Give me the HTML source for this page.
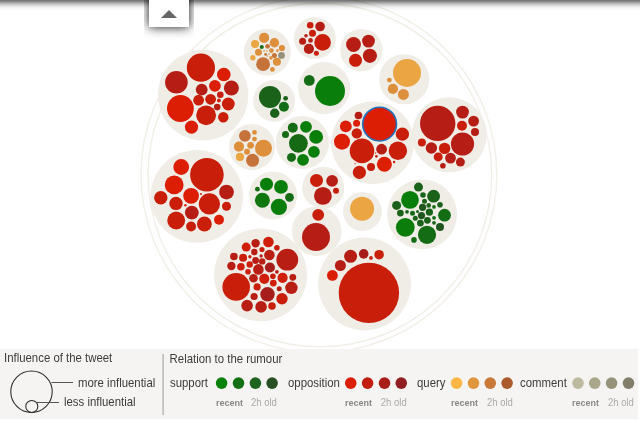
<!DOCTYPE html>
<html><head><meta charset="utf-8"><style>
html,body{margin:0;padding:0;background:#fff;}
body{width:640px;height:424px;overflow:hidden;position:relative;font-family:"Liberation Sans",sans-serif;}
#chart{position:absolute;left:0;top:0;width:640px;height:424px;}
#topshadow{position:absolute;left:0;top:0;width:640px;height:12px;background:linear-gradient(to bottom,rgba(0,0,0,.57) 0,rgba(0,0,0,.42) 2px,rgba(0,0,0,.24) 4px,rgba(0,0,0,.11) 6px,rgba(0,0,0,.04) 8px,rgba(0,0,0,.012) 10px,rgba(0,0,0,0) 12px);}
#tabwrap{position:absolute;left:144px;top:0;width:50px;height:40px;overflow:hidden;}
#tab{position:absolute;left:5px;top:-14px;width:40px;height:40.6px;background:#fff;box-shadow:0 0 10px rgba(0,0,0,.95);}
#tab:after{content:"";position:absolute;left:12px;top:24px;border-left:8px solid transparent;border-right:8px solid transparent;border-bottom:8px solid #666;}
#legend{position:absolute;left:0;top:349px;width:638px;height:70px;background:#f5f4f2;}
.t{position:absolute;font-size:11.4px;color:#3c3c3c;white-space:nowrap;line-height:14px;transform:scaleY(1.07);transform-origin:0 10.8px;}
.s{position:absolute;font-size:9.5px;color:#aaa;white-space:nowrap;line-height:11px;transform:scaleY(1.06);transform-origin:0 8.6px;}
.s b{color:#888;font-size:9px;}
#sep{position:absolute;left:163px;top:354px;width:1px;height:61px;background:#bbb;}
</style></head><body>
<svg id="chart" width="640" height="424" viewBox="0 0 640 424">
<circle cx="318.9" cy="174.6" r="177.9" fill="none" stroke="#f1efe7" stroke-width="1.4"/>
<circle cx="319.9" cy="175" r="171.8" fill="none" stroke="#f1efe7" stroke-width="1.4"/>
<circle cx="203.1" cy="95.2" r="45.2" fill="#efede6"/>
<circle cx="200.9" cy="67.7" r="14.1" fill="#c81e0a"/>
<circle cx="176.4" cy="82.3" r="11.3" fill="#b61e15"/>
<circle cx="180.4" cy="108.5" r="13.4" fill="#dc1e05"/>
<circle cx="223.8" cy="74.5" r="6.8" fill="#dc1e05"/>
<circle cx="231.4" cy="88.0" r="7.5" fill="#b61e15"/>
<circle cx="214.9" cy="85.8" r="5.9" fill="#dc1e05"/>
<circle cx="201.7" cy="89.6" r="5.9" fill="#b61e15"/>
<circle cx="198.6" cy="100.2" r="5.4" fill="#c81e0a"/>
<circle cx="210.6" cy="99.3" r="5.4" fill="#c81e0a"/>
<circle cx="220.3" cy="94.8" r="3.3" fill="#c81e0a"/>
<circle cx="218.9" cy="100.5" r="1.9" fill="#c81e0a"/>
<circle cx="217.2" cy="107.1" r="3.3" fill="#b61e15"/>
<circle cx="228.3" cy="104.0" r="6.4" fill="#c81e0a"/>
<circle cx="206.1" cy="115.3" r="9.9" fill="#c81e0a"/>
<circle cx="223.3" cy="117.2" r="5.2" fill="#c81e0a"/>
<circle cx="191.5" cy="127.1" r="6.6" fill="#dc1e05"/>
<circle cx="267.3" cy="52.1" r="23.4" fill="#efede6"/>
<circle cx="264.1" cy="37.8" r="5.1" fill="#dd8f3c"/>
<circle cx="274.4" cy="42.8" r="4.7" fill="#dd8f3c"/>
<circle cx="255.0" cy="44.1" r="4.0" fill="#eba542"/>
<circle cx="261.8" cy="47.0" r="2.0" fill="#146c14"/>
<circle cx="267.6" cy="46.3" r="2.4" fill="#c5733a"/>
<circle cx="281.9" cy="48.0" r="3.1" fill="#dd8f3c"/>
<circle cx="258.5" cy="52.3" r="3.5" fill="#dd8f3c"/>
<circle cx="271.4" cy="50.6" r="2.4" fill="#dd8f3c"/>
<circle cx="277.4" cy="50.7" r="1.4" fill="#dd8f3c"/>
<circle cx="264.1" cy="50.9" r="0.8" fill="#dd8f3c"/>
<circle cx="266.9" cy="51.0" r="0.8" fill="#dd8f3c"/>
<circle cx="265.6" cy="54.4" r="1.4" fill="#c5733a"/>
<circle cx="269.0" cy="54.0" r="0.8" fill="#c5733a"/>
<circle cx="267.2" cy="56.0" r="0.7" fill="#c5733a"/>
<circle cx="274.4" cy="55.5" r="2.5" fill="#c5733a"/>
<circle cx="281.5" cy="55.4" r="3.4" fill="#96927a"/>
<circle cx="252.9" cy="57.7" r="2.7" fill="#eba542"/>
<circle cx="271.0" cy="57.9" r="1.8" fill="#dd8f3c"/>
<circle cx="263.1" cy="64.2" r="6.9" fill="#c5733a"/>
<circle cx="276.9" cy="61.8" r="4.0" fill="#dd8f3c"/>
<circle cx="272.4" cy="69.4" r="2.4" fill="#dd8f3c"/>
<circle cx="314.9" cy="38.1" r="20.9" fill="#efede6"/>
<circle cx="310.2" cy="25.3" r="3.3" fill="#c81e0a"/>
<circle cx="320.1" cy="26.5" r="4.8" fill="#b61e15"/>
<circle cx="312.5" cy="33.3" r="3.5" fill="#c81e0a"/>
<circle cx="306.0" cy="35.7" r="1.8" fill="#b61e15"/>
<circle cx="302.6" cy="41.3" r="3.5" fill="#b61e15"/>
<circle cx="310.5" cy="40.4" r="2.4" fill="#b61e15"/>
<circle cx="322.6" cy="42.4" r="8.3" fill="#c81e0a"/>
<circle cx="308.9" cy="48.9" r="5.1" fill="#b61e15"/>
<circle cx="316.4" cy="53.3" r="2.5" fill="#c81e0a"/>
<circle cx="361.4" cy="50.1" r="21.2" fill="#efede6"/>
<circle cx="353.5" cy="44.5" r="7.4" fill="#b61e15"/>
<circle cx="368.5" cy="41.1" r="6.4" fill="#b61e15"/>
<circle cx="369.9" cy="55.8" r="7.1" fill="#b61e15"/>
<circle cx="355.5" cy="60.3" r="6.5" fill="#c81e0a"/>
<circle cx="404.2" cy="79.25" r="25.1" fill="#efede6"/>
<circle cx="407.0" cy="72.9" r="14.0" fill="#eba542"/>
<circle cx="389.4" cy="80.1" r="2.4" fill="#dd8f3c"/>
<circle cx="392.9" cy="88.9" r="5.1" fill="#dd8f3c"/>
<circle cx="403.4" cy="94.4" r="5.5" fill="#dd8f3c"/>
<circle cx="324.1" cy="88.1" r="26.0" fill="#efede6"/>
<circle cx="330.0" cy="91.0" r="15.0" fill="#0a7e0a"/>
<circle cx="309.3" cy="80.4" r="5.4" fill="#146c14"/>
<circle cx="274.2" cy="100.8" r="20.9" fill="#efede6"/>
<circle cx="270.0" cy="96.9" r="11.0" fill="#1a621a"/>
<circle cx="285.6" cy="98.3" r="2.4" fill="#1a621a"/>
<circle cx="283.9" cy="106.8" r="5.0" fill="#146c14"/>
<circle cx="274.7" cy="113.3" r="4.7" fill="#1a621a"/>
<circle cx="252.1" cy="147.1" r="23" fill="#efede6"/>
<circle cx="244.9" cy="135.8" r="5.9" fill="#c5733a"/>
<circle cx="254.5" cy="132.4" r="2.4" fill="#dd8f3c"/>
<circle cx="254.5" cy="139.1" r="2.4" fill="#dd8f3c"/>
<circle cx="239.0" cy="146.7" r="5.1" fill="#dd8f3c"/>
<circle cx="250.6" cy="145.3" r="3.4" fill="#dd8f3c"/>
<circle cx="263.5" cy="148.3" r="8.5" fill="#dd8f3c"/>
<circle cx="247.0" cy="151.7" r="3.0" fill="#dd8f3c"/>
<circle cx="240.0" cy="156.9" r="4.1" fill="#eba542"/>
<circle cx="252.6" cy="160.3" r="6.5" fill="#c5733a"/>
<circle cx="302.4" cy="142.5" r="26.6" fill="#efede6"/>
<circle cx="292.8" cy="127.8" r="5.0" fill="#146c14"/>
<circle cx="306.0" cy="126.8" r="5.9" fill="#0a7e0a"/>
<circle cx="285.5" cy="134.4" r="3.5" fill="#146c14"/>
<circle cx="316.1" cy="136.9" r="6.9" fill="#0a7e0a"/>
<circle cx="298.4" cy="143.3" r="9.4" fill="#166a16"/>
<circle cx="313.9" cy="151.8" r="5.9" fill="#0a7e0a"/>
<circle cx="291.5" cy="157.4" r="4.5" fill="#146c14"/>
<circle cx="303.0" cy="159.8" r="5.9" fill="#0a7e0a"/>
<circle cx="372.6" cy="142.8" r="41.4" fill="#efede6"/>
<circle cx="379.6" cy="124.1" r="16.9" fill="#dc1e05" stroke="#1f72bd" stroke-width="1.6"/>
<circle cx="358.5" cy="115.5" r="3.8" fill="#b61e15"/>
<circle cx="356.6" cy="123.3" r="3.5" fill="#dc1e05"/>
<circle cx="345.8" cy="126.4" r="5.9" fill="#dc1e05"/>
<circle cx="356.8" cy="133.4" r="5.2" fill="#c81e0a"/>
<circle cx="402.4" cy="134.2" r="6.6" fill="#c81e0a"/>
<circle cx="342.0" cy="141.7" r="8.0" fill="#dc1e05"/>
<circle cx="362.0" cy="150.9" r="12.3" fill="#c81e0a"/>
<circle cx="381.6" cy="149.2" r="5.4" fill="#b61e15"/>
<circle cx="397.9" cy="150.7" r="9.2" fill="#c81e0a"/>
<circle cx="376.4" cy="156.3" r="1.4" fill="#c81e0a"/>
<circle cx="375.7" cy="153.0" r="0.7" fill="#c81e0a"/>
<circle cx="355.0" cy="163.6" r="0.7" fill="#c81e0a"/>
<circle cx="394.1" cy="162.0" r="1.2" fill="#c81e0a"/>
<circle cx="384.4" cy="164.3" r="7.5" fill="#dc1e05"/>
<circle cx="371.0" cy="166.9" r="4.0" fill="#c81e0a"/>
<circle cx="359.4" cy="172.4" r="6.6" fill="#c81e0a"/>
<circle cx="449.3" cy="134.8" r="37.5" fill="#efede6"/>
<circle cx="437.7" cy="123.4" r="17.7" fill="#b61e15"/>
<circle cx="462.5" cy="112.1" r="6.4" fill="#b61e15"/>
<circle cx="473.6" cy="121.1" r="5.4" fill="#b61e15"/>
<circle cx="462.0" cy="125.8" r="5.0" fill="#c81e0a"/>
<circle cx="475.0" cy="131.9" r="4.0" fill="#b61e15"/>
<circle cx="462.5" cy="144.0" r="11.6" fill="#b61e15"/>
<circle cx="421.9" cy="142.5" r="4.0" fill="#c81e0a"/>
<circle cx="431.4" cy="148.0" r="5.7" fill="#b61e15"/>
<circle cx="444.6" cy="148.4" r="5.7" fill="#c81e0a"/>
<circle cx="438.2" cy="156.9" r="4.5" fill="#c81e0a"/>
<circle cx="450.5" cy="158.1" r="5.4" fill="#b61e15"/>
<circle cx="460.4" cy="162.1" r="4.5" fill="#b61e15"/>
<circle cx="442.9" cy="165.7" r="2.8" fill="#b61e15"/>
<circle cx="196.8" cy="196.4" r="46.3" fill="#efede6"/>
<circle cx="206.9" cy="174.7" r="16.8" fill="#c81e0a"/>
<circle cx="181.2" cy="167.0" r="7.9" fill="#dc1e05"/>
<circle cx="174.2" cy="184.9" r="9.4" fill="#dc1e05"/>
<circle cx="226.5" cy="192.1" r="7.4" fill="#b61e15"/>
<circle cx="160.8" cy="197.7" r="6.7" fill="#c81e0a"/>
<circle cx="191.1" cy="195.8" r="7.9" fill="#dc1e05"/>
<circle cx="201.0" cy="194.0" r="1.0" fill="#c81e0a"/>
<circle cx="176.0" cy="203.4" r="6.7" fill="#c81e0a"/>
<circle cx="185.4" cy="205.2" r="1.2" fill="#dc1e05"/>
<circle cx="209.4" cy="203.9" r="10.6" fill="#c81e0a"/>
<circle cx="226.5" cy="206.2" r="4.5" fill="#c81e0a"/>
<circle cx="191.8" cy="212.6" r="6.9" fill="#b61e15"/>
<circle cx="176.2" cy="220.5" r="8.9" fill="#c81e0a"/>
<circle cx="219.0" cy="219.8" r="5.0" fill="#dc1e05"/>
<circle cx="204.4" cy="224.0" r="7.4" fill="#c81e0a"/>
<circle cx="191.1" cy="226.5" r="5.0" fill="#c81e0a"/>
<circle cx="273.1" cy="195.5" r="24.0" fill="#efede6"/>
<circle cx="266.5" cy="184.2" r="6.5" fill="#0a7e0a"/>
<circle cx="281.0" cy="186.9" r="6.9" fill="#0a7e0a"/>
<circle cx="257.4" cy="189.2" r="2.4" fill="#146c14"/>
<circle cx="289.5" cy="197.3" r="4.4" fill="#146c14"/>
<circle cx="262.4" cy="200.2" r="7.5" fill="#107610"/>
<circle cx="278.9" cy="206.9" r="8.1" fill="#0a7e0a"/>
<circle cx="323.2" cy="187.7" r="21" fill="#efede6"/>
<circle cx="316.5" cy="180.4" r="6.5" fill="#c81e0a"/>
<circle cx="332.1" cy="180.8" r="5.9" fill="#b61e15"/>
<circle cx="336.0" cy="190.8" r="3.0" fill="#c81e0a"/>
<circle cx="322.9" cy="195.9" r="8.9" fill="#b61e15"/>
<circle cx="362.5" cy="211.5" r="19.4" fill="#efede6"/>
<circle cx="362.1" cy="208.7" r="12.0" fill="#eba542"/>
<circle cx="422.1" cy="214.3" r="34.9" fill="#efede6"/>
<circle cx="418.5" cy="187.1" r="4.5" fill="#1a621a"/>
<circle cx="410.0" cy="199.9" r="8.9" fill="#0a7e0a"/>
<circle cx="423.0" cy="195.0" r="2.8" fill="#1a621a"/>
<circle cx="433.6" cy="196.2" r="6.4" fill="#1a621a"/>
<circle cx="424.5" cy="201.2" r="2.5" fill="#1a621a"/>
<circle cx="396.6" cy="205.4" r="4.5" fill="#1a621a"/>
<circle cx="440.0" cy="204.8" r="2.8" fill="#1a621a"/>
<circle cx="428.7" cy="205.4" r="2.3" fill="#1a621a"/>
<circle cx="434.0" cy="206.9" r="1.9" fill="#146c14"/>
<circle cx="422.6" cy="207.3" r="3.6" fill="#1e561e"/>
<circle cx="400.4" cy="213.1" r="3.4" fill="#1a621a"/>
<circle cx="407.0" cy="211.8" r="1.9" fill="#1a621a"/>
<circle cx="412.5" cy="213.3" r="2.5" fill="#146c14"/>
<circle cx="417.5" cy="211.4" r="1.5" fill="#1a621a"/>
<circle cx="429.4" cy="212.2" r="3.6" fill="#1a621a"/>
<circle cx="444.5" cy="215.2" r="6.4" fill="#146c14"/>
<circle cx="421.5" cy="215.6" r="3.6" fill="#1e561e"/>
<circle cx="415.3" cy="218.2" r="2.5" fill="#1a621a"/>
<circle cx="434.0" cy="217.8" r="1.9" fill="#146c14"/>
<circle cx="427.4" cy="220.3" r="3.4" fill="#1a621a"/>
<circle cx="420.4" cy="223.1" r="3.4" fill="#1a621a"/>
<circle cx="434.0" cy="222.8" r="1.9" fill="#1a621a"/>
<circle cx="440.0" cy="226.9" r="4.0" fill="#1e561e"/>
<circle cx="405.3" cy="227.3" r="9.4" fill="#0b7d0b"/>
<circle cx="427.0" cy="234.8" r="9.1" fill="#146c14"/>
<circle cx="414.0" cy="239.9" r="2.8" fill="#146c14"/>
<circle cx="316.7" cy="231.2" r="24.8" fill="#efede6"/>
<circle cx="318.2" cy="214.8" r="5.9" fill="#c81e0a"/>
<circle cx="316.0" cy="237.1" r="14.0" fill="#b61e15"/>
<circle cx="260.6" cy="274.9" r="46.4" fill="#efede6"/>
<circle cx="246.2" cy="247.1" r="4.5" fill="#cf1e09"/>
<circle cx="255.6" cy="243.3" r="4.2" fill="#b81e13"/>
<circle cx="268.4" cy="242.0" r="5.3" fill="#cf1e09"/>
<circle cx="276.9" cy="247.8" r="2.8" fill="#c81e0a"/>
<circle cx="262.0" cy="249.5" r="2.6" fill="#c81e0a"/>
<circle cx="254.3" cy="252.0" r="3.2" fill="#b81e13"/>
<circle cx="269.4" cy="255.0" r="5.3" fill="#b81e13"/>
<circle cx="287.3" cy="259.7" r="10.9" fill="#b81e13"/>
<circle cx="233.9" cy="256.5" r="3.8" fill="#b81e13"/>
<circle cx="243.1" cy="257.8" r="4.0" fill="#c81e0a"/>
<circle cx="249.9" cy="256.7" r="1.7" fill="#c81e0a"/>
<circle cx="261.1" cy="256.0" r="1.7" fill="#b81e13"/>
<circle cx="255.6" cy="260.5" r="3.4" fill="#b81e13"/>
<circle cx="262.2" cy="261.4" r="3.2" fill="#b81e13"/>
<circle cx="249.7" cy="264.5" r="3.2" fill="#cf1e09"/>
<circle cx="231.4" cy="266.0" r="4.2" fill="#b81e13"/>
<circle cx="240.9" cy="266.7" r="3.8" fill="#cf1e09"/>
<circle cx="258.4" cy="269.4" r="5.3" fill="#b81e13"/>
<circle cx="269.9" cy="267.5" r="5.1" fill="#a61e1b"/>
<circle cx="248.0" cy="271.8" r="2.8" fill="#cf1e09"/>
<circle cx="276.9" cy="271.8" r="1.9" fill="#b81e13"/>
<circle cx="253.5" cy="278.2" r="4.3" fill="#b81e13"/>
<circle cx="264.3" cy="278.8" r="5.1" fill="#cf1e09"/>
<circle cx="272.9" cy="276.2" r="2.8" fill="#c81e0a"/>
<circle cx="282.6" cy="277.8" r="5.1" fill="#cf1e09"/>
<circle cx="292.8" cy="277.3" r="3.4" fill="#b81e13"/>
<circle cx="236.2" cy="286.9" r="13.8" fill="#c81e0a"/>
<circle cx="273.3" cy="283.1" r="3.4" fill="#cf1e09"/>
<circle cx="257.1" cy="286.9" r="3.6" fill="#c81e0a"/>
<circle cx="291.4" cy="287.8" r="6.2" fill="#b81e13"/>
<circle cx="279.2" cy="288.8" r="2.5" fill="#b81e13"/>
<circle cx="267.5" cy="294.3" r="7.2" fill="#a61e1b"/>
<circle cx="254.1" cy="296.5" r="3.6" fill="#b81e13"/>
<circle cx="282.0" cy="298.8" r="5.7" fill="#c81e0a"/>
<circle cx="247.1" cy="305.6" r="5.8" fill="#b81e13"/>
<circle cx="261.1" cy="306.9" r="5.8" fill="#b81e13"/>
<circle cx="272.0" cy="306.0" r="3.8" fill="#c81e0a"/>
<circle cx="364.6" cy="284" r="46.4" fill="#efede6"/>
<circle cx="368.9" cy="292.9" r="30.2" fill="#c81e0a"/>
<circle cx="332.4" cy="275.4" r="5.4" fill="#dc1e05"/>
<circle cx="340.4" cy="265.5" r="5.5" fill="#b61e15"/>
<circle cx="350.6" cy="256.3" r="6.5" fill="#b61e15"/>
<circle cx="363.7" cy="253.9" r="4.8" fill="#a61e1b"/>
<circle cx="371.0" cy="257.9" r="1.9" fill="#c81e0a"/>
<circle cx="379.1" cy="254.7" r="4.8" fill="#c81e0a"/>
</svg>
<div id="topshadow"></div>
<div id="tabwrap"><div id="tab"></div></div>
<div id="legend"></div>
<svg id="lg" style="position:absolute;left:0;top:0" width="640" height="424" viewBox="0 0 640 424">
<circle cx="221.6" cy="383.1" r="5.8" fill="#088208"/><circle cx="238.5" cy="383.1" r="5.8" fill="#147014"/><circle cx="255.4" cy="383.1" r="5.8" fill="#1e641e"/><circle cx="272.1" cy="383.1" r="5.8" fill="#285024"/><circle cx="350.75" cy="383.1" r="5.8" fill="#dc1e05"/><circle cx="367.6" cy="383.1" r="5.8" fill="#c31e0f"/><circle cx="384.5" cy="383.1" r="5.8" fill="#aa1e19"/><circle cx="401.25" cy="383.1" r="5.8" fill="#911e23"/><circle cx="456.6" cy="383.1" r="5.8" fill="#fdb646"/><circle cx="473.5" cy="383.1" r="5.8" fill="#e0963c"/><circle cx="490.25" cy="383.1" r="5.8" fill="#c87837"/><circle cx="507.1" cy="383.1" r="5.8" fill="#aa5a2d"/><circle cx="578" cy="383.1" r="5.8" fill="#bebaa0"/><circle cx="594.75" cy="383.1" r="5.8" fill="#aaa68c"/><circle cx="611.6" cy="383.1" r="5.8" fill="#96927a"/><circle cx="628.5" cy="383.1" r="5.8" fill="#827e69"/>
<rect x="162.4" y="354" width="1.4" height="61" fill="#b4b4b4"/>
<circle cx="31.5" cy="391.8" r="20.7" fill="none" stroke="#2a2a2a" stroke-width="1.05"/>
<circle cx="31.8" cy="406.4" r="6" fill="none" stroke="#2a2a2a" stroke-width="1.05"/>
<line x1="51.5" y1="382.5" x2="73" y2="382.5" stroke="#555" stroke-width="1"/>
<line x1="37" y1="402.5" x2="59" y2="402.5" stroke="#555" stroke-width="1"/>
</svg>
<div id="txt" style="position:absolute;left:0;top:0;width:640px;height:424px;will-change:transform;transform:translateZ(0);opacity:.999">
<div class="t" style="left:4px;top:351.4px">Influence of the tweet</div>
<div class="t" style="left:78px;top:376.4px">more influential</div>
<div class="t" style="left:64px;top:395.4px">less influential</div>
<div class="t" style="left:169.6px;top:352.4px">Relation to the rumour</div>
<div class="t" style="left:170px;top:376.4px">support</div>
<div class="t" style="left:288px;top:376.4px">opposition</div>
<div class="t" style="left:417px;top:376.4px">query</div>
<div class="t" style="left:520px;top:376.4px">comment</div>
<div class="s" style="left:216px;top:397px"><b>recent</b></div><div class="s" style="left:251px;top:397px">2h old</div>
<div class="s" style="left:345px;top:397px"><b>recent</b></div><div class="s" style="left:380.8px;top:397px">2h old</div>
<div class="s" style="left:451px;top:397px"><b>recent</b></div><div class="s" style="left:487px;top:397px">2h old</div>
<div class="s" style="left:572px;top:397px"><b>recent</b></div><div class="s" style="left:608px;top:397px">2h old</div>
</div>
</body></html>
